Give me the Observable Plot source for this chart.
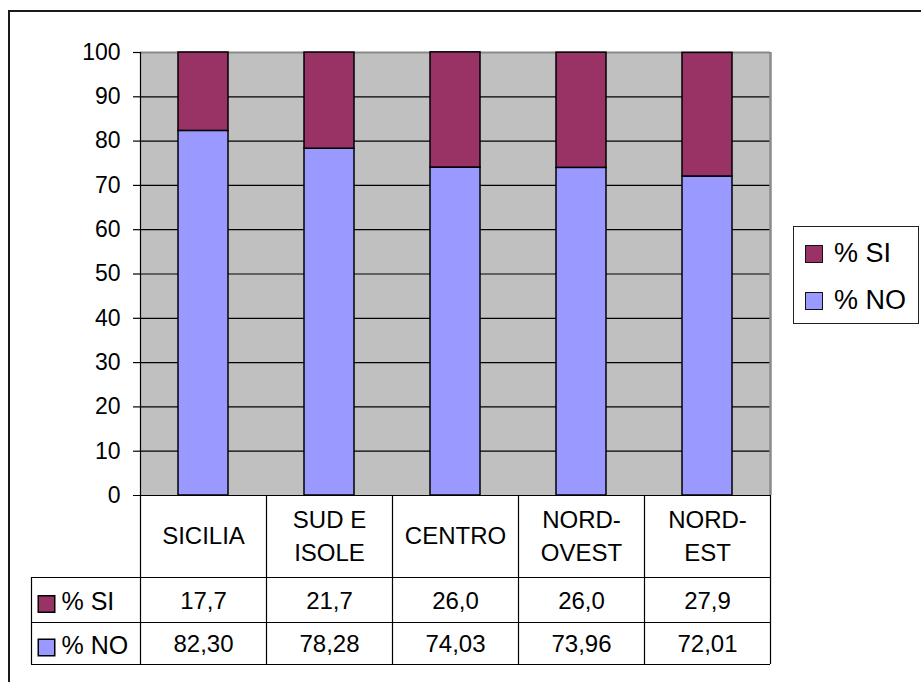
<!DOCTYPE html>
<html>
<head>
<meta charset="utf-8">
<script src="https://cdn.jsdelivr.net/npm/d3@7"></script>
<script src="https://cdn.jsdelivr.net/npm/@observablehq/plot@0.6"></script>
<style>
  html, body { margin: 0; padding: 0; background: #fff; width: 921px; height: 682px; overflow: hidden; }
  body { position: relative; font-family: "Liberation Sans", Arial, sans-serif; }
  #frame { position: absolute; left: 8px; top: 10px; width: 1000px; height: 1000px; border: 2px solid #1a1a1a; box-sizing: border-box; }
  #chart { position: absolute; left: 0; top: 0; }
  #legend { position: absolute; left: 793px; top: 226px; width: 126px; height: 98px; border: 1.5px solid #222; box-sizing: border-box; background: #fff; }
  .li { position: absolute; left: 11px; display: flex; align-items: center; font-size: 27px; color: #000; }
  .sw { width: 18px; height: 18px; border: 1.5px solid #111; box-sizing: border-box; margin-right: 11px; }
</style>
</head>
<body>
<div id="frame"></div>
<div id="chart"></div>
<div id="legend"></div>
<script>
// ---- data ----
const categories = ["SICILIA", "SUD E\nISOLE", "CENTRO", "NORD-\nOVEST", "NORD-\nEST"];
const seriesNames = ["% SI", "% NO"];
const siValues = [17.7, 21.7, 26.0, 26.0, 27.9];
const noValues = [82.30, 78.28, 74.03, 73.96, 72.01];
const siDecimals = 1;
const noDecimals = 2;
const yTicks = [0, 10, 20, 30, 40, 50, 60, 70, 80, 90, 100];
const seriesColors = ["#993366", "#9999ff"];

// ---- layout ----
const W = 921, H = 682;
const tableLeft = 31, axisLeft = 140, plotRight = 770;
const plotTop = 52, zeroY = 495, headerBottom = 577, siBottom = 622, tableBottom = 664;
const n = categories.length;
const band = (plotRight - axisLeft) / n;
const k = (zeroY - plotTop) / 100;
const yMin = -(tableBottom - zeroY) / k;
const yHeader = -(headerBottom - zeroY) / k;
const ySi = -(siBottom - zeroY) / k;
const xMin = -(axisLeft - tableLeft) / band;
const barFrac = 50 / 126;
const tickLen = 7 / band;

const fmt = (v, d) => v.toFixed(d).replace(".", ",");

const rows = categories.flatMap((c, i) => [
  {i, series: "% NO", y1: 0, y2: noValues[i]},
  {i, series: "% SI", y1: noValues[i], y2: noValues[i] + siValues[i]}
]);
const idx = categories.map((c, i) => i);
const gridTicks = yTicks.filter(t => t > 0 && t < 100);

const tableRowLines = [yHeader, ySi, yMin];
const tableRows = [
  {series: "% SI", yc: (yHeader + ySi) / 2, values: siValues, dec: siDecimals},
  {series: "% NO", yc: (ySi + yMin) / 2, values: noValues, dec: noDecimals}
];
const cellTexts = tableRows.flatMap(r => r.values.map((v, i) => ({i, yc: r.yc, text: fmt(v, r.dec)})));

const chart = Plot.plot({
  width: W,
  height: H,
  marginLeft: tableLeft,
  marginRight: W - plotRight,
  marginTop: plotTop,
  marginBottom: H - tableBottom,
  x: {type: "linear", domain: [xMin, n], axis: null},
  y: {type: "linear", domain: [yMin, 100], axis: null},
  color: {domain: seriesNames, range: seriesColors},
  style: {fontFamily: "'Liberation Sans', Arial, sans-serif", background: "transparent", color: "#000", overflow: "visible"},
  marks: [
    // plot area background
    Plot.rect([0], {x1: 0, x2: n, y1: 0, y2: 100, fill: "#c0c0c0"}),
    // gridlines
    Plot.ruleY(gridTicks, {x1: 0, x2: n, stroke: "#000", strokeWidth: 1.2}),
    // plot-area border (top/right)
    Plot.ruleY([100], {x1: 0, x2: n, stroke: "#8a8a8a", strokeWidth: 2}),
    Plot.ruleX([n], {y1: 0, y2: 100, stroke: "#8a8a8a", strokeWidth: 2.5}),
    // stacked bars
    Plot.rect(rows, {
      x1: d => d.i + (1 - barFrac) / 2,
      x2: d => d.i + (1 + barFrac) / 2,
      y1: "y1", y2: "y2",
      fill: "series",
      stroke: "#000", strokeWidth: 1.5
    }),
    // y axis: line, ticks, labels
    Plot.ruleX([0], {y1: yHeader, y2: 100, stroke: "#000", strokeWidth: 1.2}),
    Plot.ruleY(yTicks.filter(t => t > 0), {x1: -tickLen, x2: 0, stroke: "#000", strokeWidth: 1.2}),
    Plot.ruleY([0], {x1: -tickLen, x2: n, stroke: "#000", strokeWidth: 1.2}),
    Plot.text(yTicks, {x: 0, y: d => d, text: d => String(d), textAnchor: "end", dx: -20, fontSize: 23, fill: "#000"}),
    // data table: horizontal lines
    Plot.ruleY(tableRowLines, {x1: xMin, x2: n, stroke: "#000", strokeWidth: 1.2}),
    // header vertical lines
    Plot.ruleX(idx.map(i => i + 1), {y1: yHeader, y2: 0, stroke: "#000", strokeWidth: 1.2}),
    // body vertical lines
    Plot.ruleX([xMin, ...idx.map(i => i), n], {y1: yMin, y2: yHeader, stroke: "#000", strokeWidth: 1.2}),
    // header labels
    Plot.text(idx, {x: i => i + 0.5, y: yHeader / 2, text: i => categories[i], fontSize: 24, lineHeight: 1.375, dy: -3, fill: "#000"}),
    // cell values
    Plot.text(cellTexts, {x: d => d.i + 0.5, y: "yc", text: "text", fontSize: 24, dy: 1, fill: "#000"}),
    // row labels with swatches
    Plot.dot(tableRows, {x: xMin, y: "yc", dx: 15, dy: 4, symbol: "square", r: 9.3, fill: "series", stroke: "#000", strokeWidth: 1.5}),
    Plot.text(tableRows, {x: xMin, y: "yc", text: "series", dx: 30, dy: 2, textAnchor: "start", fontSize: 25, fill: "#000"})
  ]
});
document.getElementById("chart").appendChild(chart);

// legend (series order as in the reference: SI above NO)
const legend = document.getElementById("legend");
const legendTops = [11, 58];
seriesNames.forEach((s, j) => {
  const item = document.createElement("div");
  item.className = "li";
  item.style.top = legendTops[j] + "px";
  const sw = document.createElement("div");
  sw.className = "sw";
  sw.style.background = seriesColors[j];
  const t = document.createElement("span");
  t.textContent = s;
  item.appendChild(sw);
  item.appendChild(t);
  legend.appendChild(item);
});
</script>
</body>
</html>
